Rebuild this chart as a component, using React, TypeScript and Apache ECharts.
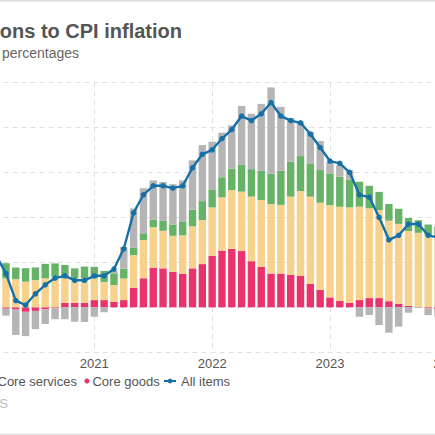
import React, { useEffect, useRef } from "react";
import * as echarts from "echarts";

// ---- data (US CPI, contributions to y/y inflation, percentage points) ----
const months = [
  "2020-02", "2020-03", "2020-04", "2020-05", "2020-06", "2020-07", "2020-08", "2020-09", "2020-10", "2020-11", "2020-12",
  "2021-01", "2021-02", "2021-03", "2021-04", "2021-05", "2021-06", "2021-07", "2021-08", "2021-09", "2021-10", "2021-11", "2021-12",
  "2022-01", "2022-02", "2022-03", "2022-04", "2022-05", "2022-06", "2022-07", "2022-08", "2022-09", "2022-10", "2022-11", "2022-12",
  "2023-01", "2023-02", "2023-03", "2023-04", "2023-05", "2023-06", "2023-07", "2023-08", "2023-09", "2023-10", "2023-11",
];
const leadMonths = ["2019-12", "2020-01"];
const trailMonths = ["2023-12"];
const yearLabels = ["2020", "2021", "2022", "2023", "2024"];

const coreGoods = [
  -0.05, -0.06, -0.1, -0.2, -0.16, -0.09, -0.04, 0.2, 0.2, 0.2, 0.32,
  0.32, 0.25, 0.32, 0.87, 1.29, 1.76, 1.73, 1.58, 1.48, 1.73, 1.92, 2.29,
  2.52, 2.6, 2.5, 2.05, 1.8, 1.5, 1.5, 1.45, 1.39, 1.04, 0.77, 0.44,
  0.29, 0.2, 0.32, 0.41, 0.41, 0.27, 0.15, 0.06, 0.02, -0.05, -0.08,
];
const coreServices = [
  1.35, 1.29, 1.25, 1.14, 1.21, 1.29, 1.36, 1.09, 1.09, 1.09, 0.96,
  0.81, 0.74, 0.96, 1.45, 1.7, 1.8, 1.67, 1.6, 1.72, 1.87, 1.96, 2.15,
  2.37, 2.61, 2.64, 2.87, 2.97, 3.09, 3.05, 3.47, 3.78, 3.88, 3.88, 4.1,
  4.18, 4.24, 4.15, 3.99, 3.91, 3.58, 3.56, 3.33, 3.29, 3.2, 3.17,
];
const food = [
  0.6, 0.67, 0.52, 0.6, 0.56, 0.64, 0.59, 0.59, 0.44, 0.52, 0.52,
  0.49, 0.52, 0.44, 0.32, 0.3, 0.33, 0.44, 0.5, 0.62, 0.74, 0.84, 0.8,
  0.89, 0.96, 1.19, 1.22, 1.29, 1.36, 1.52, 1.56, 1.55, 1.48, 1.45, 1.41,
  1.33, 1.24, 1.11, 1.0, 0.81, 0.74, 0.67, 0.58, 0.56, 0.48, 0.41,
];
const energy = [
  0.25, -0.31, -1.13, -1.08, -0.81, -0.65, -0.49, -0.53, -0.64, -0.65, -0.42,
  -0.22, 0.12, 0.96, 1.75, 2.0, 1.75, 1.73, 1.79, 1.82, 2.19, 2.49, 2.12,
  1.98, 1.92, 2.62, 2.46, 2.98, 3.82, 2.84, 1.93, 1.52, 1.4, 1.29, 0.52,
  0.52, 0.41, -0.42, -0.34, -0.79, -1.13, -0.86, -0.24, -0.03, -0.3, -0.34,
];
const allItems = [
  2.3, 1.5, 0.3, 0.1, 0.6, 1.0, 1.3, 1.4, 1.2, 1.2, 1.4,
  1.4, 1.7, 2.6, 4.2, 5.0, 5.4, 5.4, 5.3, 5.4, 6.2, 6.8, 7.0,
  7.5, 7.9, 8.5, 8.3, 8.6, 9.1, 8.5, 8.3, 8.2, 7.7, 7.1, 6.5,
  6.4, 6.0, 5.0, 4.9, 4.0, 3.0, 3.2, 3.7, 3.7, 3.2, 3.1,
];

const axisMonths = [...leadMonths, ...months, ...trailMonths];
const pad = (arr: number[]) => [
  ...leadMonths.map(() => null),
  ...arr,
  ...trailMonths.map(() => null),
];

const COLORS = {
  goods: "#e8336c",
  services: "#f7d28c",
  food: "#66b266",
  energy: "#b5b5b5",
  line: "#1670a8",
};

const FONT = '"Liberation Sans", Arial, Helvetica, sans-serif';
const OFFSET = 130; // the view shows a crop of a wider chart
const W = 620;
const H = 435;

export default function App() {
  const ref = useRef<HTMLDivElement>(null);

  useEffect(() => {
    if (!ref.current) return;
    const chart = echarts.init(ref.current, undefined, { renderer: "svg" });
    const legendText = { fontSize: 13, color: "#555", fontFamily: FONT, lineHeight: 14 };
    const barSeries = (name: string, data: number[], color: string) => ({
      name,
      type: "bar",
      stack: "total",
      barWidth: 7.4,
      data: pad(data),
      itemStyle: { color },
      emphasis: { disabled: true },
    });
    chart.setOption({
      animation: false,
      backgroundColor: "#fff",
      title: [
        {
          text: "Contributions to CPI inflation",
          right: W - (OFFSET + 182),
          top: 21.3,
          padding: 0,
          textStyle: { fontSize: 20, fontWeight: "bold", color: "#555", fontFamily: FONT, lineHeight: 20 },
        },
        {
          text: "Year-on-year change, percentages",
          right: W - (OFFSET + 79),
          top: 45.6,
          padding: 0,
          textStyle: { fontSize: 14, fontWeight: "normal", color: "#666", fontFamily: FONT, lineHeight: 14 },
        },
      ],
      legend: [
        {
          data: ["Energy", "Food"],
          left: OFFSET - 112.3,
          top: 374,
          padding: 0,
          icon: "circle",
          itemWidth: 5,
          itemHeight: 5,
          itemGap: 7.5,
          textStyle: { ...legendText, padding: [0, 0, 0, -2] },
        },
        {
          data: ["Core services", "Core goods"],
          left: OFFSET - 10.5,
          top: 374,
          padding: 0,
          icon: "circle",
          itemWidth: 5,
          itemHeight: 5,
          itemGap: 7.5,
          textStyle: { ...legendText, padding: [0, 0, 0, -2] },
        },
        {
          data: ["All items"],
          left: OFFSET + 163,
          top: 374,
          padding: 0,
          itemWidth: 12,
          itemHeight: 6,
          textStyle: legendText,
        },
      ],
      grid: {
        left: OFFSET - 23.5,
        top: 82.3,
        width: 471.3,
        height: 270,
        containLabel: false,
        outerBoundsMode: "none",
      },
      xAxis: {
        type: "category",
        data: axisMonths,
        boundaryGap: false,
        axisLine: { show: false, onZero: false },
        axisTick: { show: false },
        axisLabel: {
          interval: 11,
          formatter: (_v: string, i: number) => yearLabels[Math.round(i / 12)] ?? "",
          color: "#555",
          fontSize: 13,
          fontFamily: FONT,
          lineHeight: 14,
          margin: 4,
        },
        splitLine: {
          show: true,
          interval: 11,
          lineStyle: { color: "#e0e0e0", type: [5, 4], width: 1 },
        },
      },
      yAxis: {
        type: "value",
        min: -2,
        max: 10,
        interval: 2,
        axisLine: { show: false },
        axisTick: { show: false },
        axisLabel: { show: false },
        splitLine: { lineStyle: { color: "#e0e0e0", type: [5, 4], width: 1 } },
      },
      series: [
        barSeries("Core goods", coreGoods, COLORS.goods),
        barSeries("Core services", coreServices, COLORS.services),
        barSeries("Food", food, COLORS.food),
        barSeries("Energy", energy, COLORS.energy),
        {
          name: "All items",
          type: "line",
          data: pad(allItems),
          symbol: "circle",
          symbolSize: 5.5,
          lineStyle: { width: 2.4, color: COLORS.line },
          itemStyle: { color: COLORS.line },
          z: 10,
          emphasis: { disabled: true },
        },
      ],
      graphic: [
        {
          type: "rect",
          silent: true,
          shape: { x: 0, y: 0, width: W, height: 1.6 },
          style: { fill: "#dcdcdc" },
        },
        {
          type: "rect",
          silent: true,
          shape: { x: 0, y: 433.4, width: W, height: 1.6 },
          style: { fill: "#e2e2e2" },
        },
        {
          type: "text",
          silent: true,
          x: OFFSET + 8,
          y: 403.5,
          style: {
            text: "Source: BLS",
            fill: "#bbbbbb",
            fontSize: 13,
            fontFamily: FONT,
            align: "right",
            verticalAlign: "middle",
          },
        },
      ],
    });
    return () => chart.dispose();
  }, []);

  return (
    <div
      style={{
        position: "fixed",
        left: 0,
        top: 0,
        width: 435,
        height: 435,
        overflow: "hidden",
        background: "#fff",
      }}
    >
      <div
        ref={ref}
        style={{ position: "absolute", left: -OFFSET, top: 0, width: W, height: H }}
      />
    </div>
  );
}
